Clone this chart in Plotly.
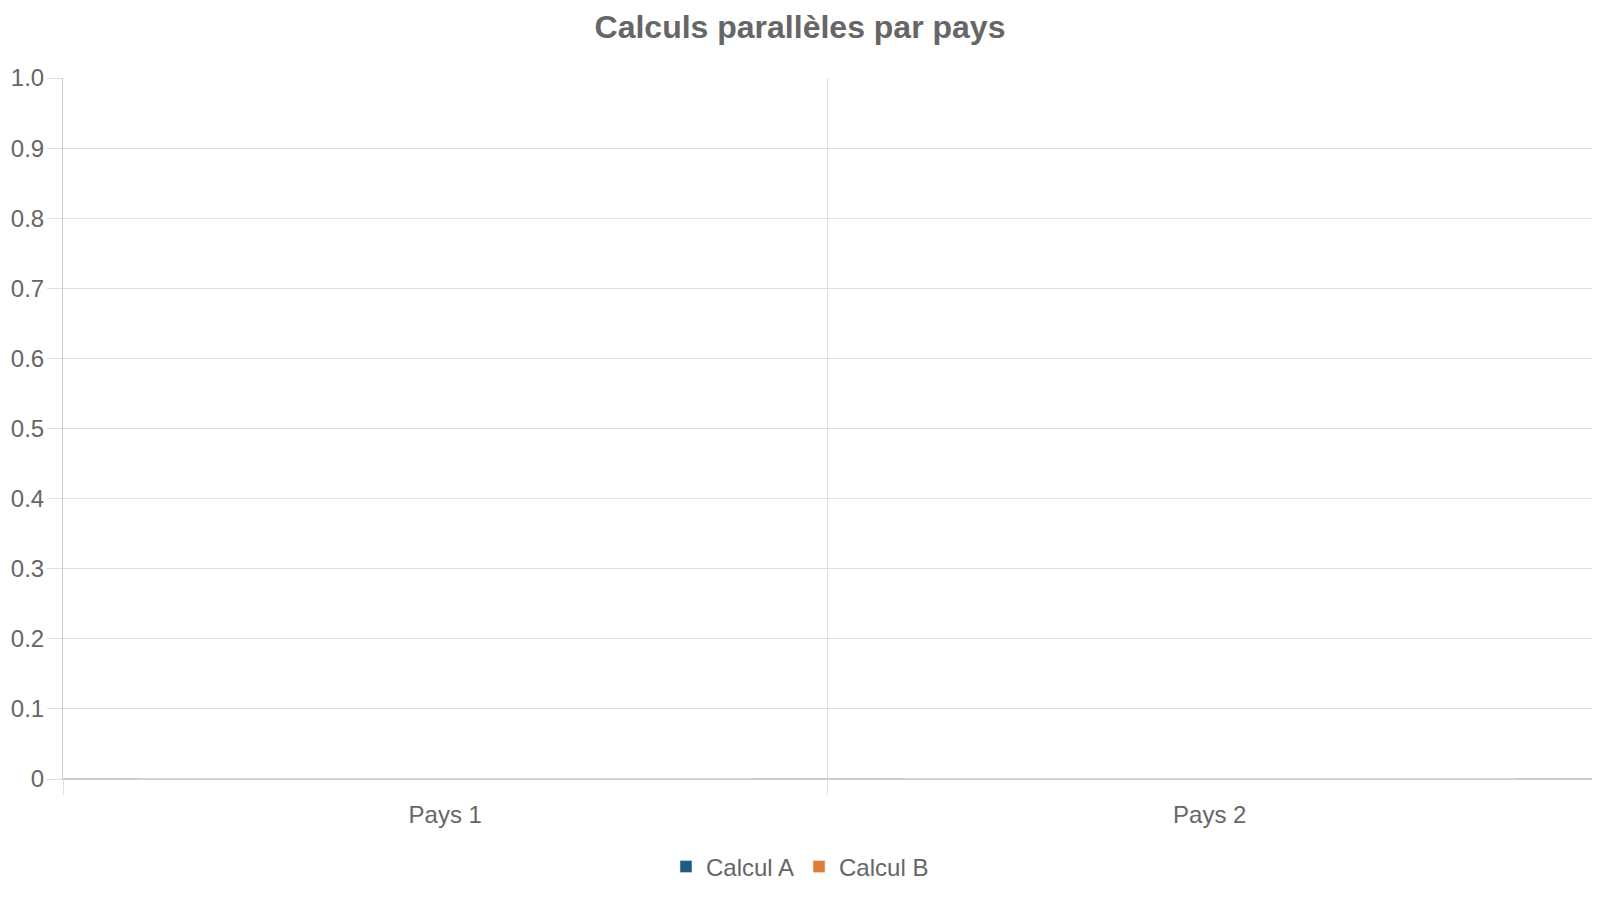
import plotly.graph_objects as go

# Pays et résultats des calculs (aucune valeur dans le graphique d'origine)
countries = ["Pays 1", "Pays 2"]
calcul_a = [0, 0]
calcul_b = [0, 0]

series = [
    ("Calcul A", calcul_a, "#1f5a84"),
    ("Calcul B", calcul_b, "#e07b39"),
]

fig = go.Figure()
for name, values, color in series:
    fig.add_trace(go.Bar(x=countries, y=values, name=name, marker_color=color))

# 1584x884 : la page garde ses marges de 8 px sans barres de défilement
fig.update_layout(
    width=1584,
    height=884,
    barmode="group",
    paper_bgcolor="white",
    plot_bgcolor="white",
    font=dict(family="Liberation Sans, Arial, sans-serif", size=24, color="#666666"),
    title=dict(
        text="<b>Calculs parallèles par pays</b>",
        x=0.5,
        xanchor="center",
        y=0.979,
        yanchor="middle",
        font=dict(size=32, color="#666666"),
    ),
    margin=dict(l=55, r=0, t=70, b=113),
    xaxis=dict(
        type="category",
        automargin=False,
        tickson="boundaries",
        ticks="outside",
        ticklen=15,
        tickcolor="#e0e0e0",
        ticklabelstandoff=14,
        showgrid=True,
        gridcolor="#e0e0e0",
        showline=True,
        linecolor="#cccccc",
        tickfont=dict(size=24),
    ),
    yaxis=dict(
        range=[0, 1],
        automargin=False,
        ticks="outside",
        ticklen=15,
        tickcolor="#e0e0e0",
        ticklabelstandoff=-2,
        showgrid=True,
        gridcolor="#e0e0e0",
        zeroline=True,
        zerolinecolor="#cccccc",
        showline=True,
        linecolor="#cccccc",
        tickfont=dict(size=24),
    ),
    legend=dict(
        orientation="h",
        x=0.482,
        xanchor="center",
        y=-0.1255,
        yanchor="middle",
        font=dict(size=24),
    ),
)

# "0" au lieu de "0.0" comme dans l'original
fig.update_yaxes(tickvals=[i / 10 for i in range(11)],
                 ticktext=["0"] + [f"{i / 10:.1f}" for i in range(1, 11)])

fig.write_html("out.html")
